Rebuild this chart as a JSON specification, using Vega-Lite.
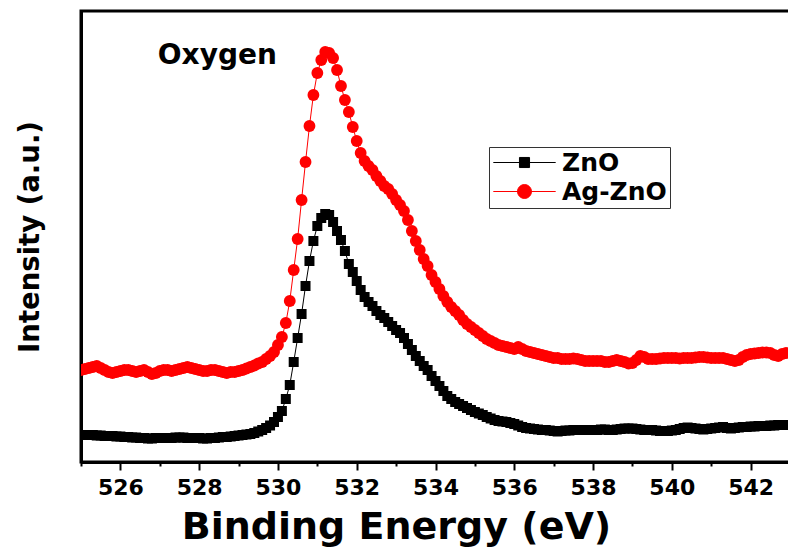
{
  "$schema": "https://vega.github.io/schema/vega-lite/v6.json",
  "width": 709,
  "height": 451,
  "autosize": {"type": "none"},
  "padding": {"left": 81, "top": 11, "right": 0, "bottom": 88},
  "background": "white",
  "config": {
    "view": {"stroke": "black", "strokeWidth": 3},
    "font": "DejaVu Sans"
  },
  "data": {"values": [
    {"e":525.0,"s":"Ag-ZnO","v":92},{"e":525.1,"s":"Ag-ZnO","v":93},{"e":525.2,"s":"Ag-ZnO","v":94},{"e":525.3,"s":"Ag-ZnO","v":95},{"e":525.4,"s":"Ag-ZnO","v":96},{"e":525.5,"s":"Ag-ZnO","v":94},{"e":525.6,"s":"Ag-ZnO","v":92},{"e":525.7,"s":"Ag-ZnO","v":90},{"e":525.8,"s":"Ag-ZnO","v":89},{"e":525.9,"s":"Ag-ZnO","v":90},
    {"e":526.0,"s":"Ag-ZnO","v":91},{"e":526.1,"s":"Ag-ZnO","v":92},{"e":526.2,"s":"Ag-ZnO","v":92},{"e":526.3,"s":"Ag-ZnO","v":91},{"e":526.4,"s":"Ag-ZnO","v":90},{"e":526.5,"s":"Ag-ZnO","v":91},{"e":526.6,"s":"Ag-ZnO","v":92},{"e":526.7,"s":"Ag-ZnO","v":90},{"e":526.8,"s":"Ag-ZnO","v":88},{"e":526.9,"s":"Ag-ZnO","v":89},
    {"e":527.0,"s":"Ag-ZnO","v":91},{"e":527.1,"s":"Ag-ZnO","v":92},{"e":527.2,"s":"Ag-ZnO","v":92},{"e":527.3,"s":"Ag-ZnO","v":91},{"e":527.4,"s":"Ag-ZnO","v":92},{"e":527.5,"s":"Ag-ZnO","v":93},{"e":527.6,"s":"Ag-ZnO","v":94},{"e":527.7,"s":"Ag-ZnO","v":95},{"e":527.8,"s":"Ag-ZnO","v":94},{"e":527.9,"s":"Ag-ZnO","v":93},
    {"e":528.0,"s":"Ag-ZnO","v":92},{"e":528.1,"s":"Ag-ZnO","v":91},{"e":528.2,"s":"Ag-ZnO","v":91},{"e":528.3,"s":"Ag-ZnO","v":92},{"e":528.4,"s":"Ag-ZnO","v":92},{"e":528.5,"s":"Ag-ZnO","v":91},{"e":528.6,"s":"Ag-ZnO","v":90},{"e":528.7,"s":"Ag-ZnO","v":89},{"e":528.8,"s":"Ag-ZnO","v":90},{"e":528.9,"s":"Ag-ZnO","v":90},
    {"e":529.0,"s":"Ag-ZnO","v":91},{"e":529.1,"s":"Ag-ZnO","v":92},{"e":529.2,"s":"Ag-ZnO","v":93.5},{"e":529.3,"s":"Ag-ZnO","v":95},{"e":529.4,"s":"Ag-ZnO","v":96.5},{"e":529.5,"s":"Ag-ZnO","v":98.5},{"e":529.6,"s":"Ag-ZnO","v":100},{"e":529.7,"s":"Ag-ZnO","v":103},{"e":529.8,"s":"Ag-ZnO","v":106},{"e":529.9,"s":"Ag-ZnO","v":110},
    {"e":530.0,"s":"Ag-ZnO","v":117},{"e":530.1,"s":"Ag-ZnO","v":125},{"e":530.2,"s":"Ag-ZnO","v":139},{"e":530.3,"s":"Ag-ZnO","v":161},{"e":530.4,"s":"Ag-ZnO","v":192},{"e":530.5,"s":"Ag-ZnO","v":223},{"e":530.6,"s":"Ag-ZnO","v":262},{"e":530.7,"s":"Ag-ZnO","v":300},{"e":530.8,"s":"Ag-ZnO","v":336},{"e":530.9,"s":"Ag-ZnO","v":367},
    {"e":531.0,"s":"Ag-ZnO","v":389},{"e":531.1,"s":"Ag-ZnO","v":402},{"e":531.2,"s":"Ag-ZnO","v":410},{"e":531.3,"s":"Ag-ZnO","v":409},{"e":531.4,"s":"Ag-ZnO","v":404},{"e":531.5,"s":"Ag-ZnO","v":392},{"e":531.6,"s":"Ag-ZnO","v":376},{"e":531.7,"s":"Ag-ZnO","v":362},{"e":531.8,"s":"Ag-ZnO","v":350},{"e":531.9,"s":"Ag-ZnO","v":335},
    {"e":532.0,"s":"Ag-ZnO","v":321},{"e":532.1,"s":"Ag-ZnO","v":309},{"e":532.2,"s":"Ag-ZnO","v":301},{"e":532.3,"s":"Ag-ZnO","v":296},{"e":532.4,"s":"Ag-ZnO","v":292},{"e":532.5,"s":"Ag-ZnO","v":286},{"e":532.6,"s":"Ag-ZnO","v":281},{"e":532.7,"s":"Ag-ZnO","v":276},{"e":532.8,"s":"Ag-ZnO","v":273},{"e":532.9,"s":"Ag-ZnO","v":268},
    {"e":533.0,"s":"Ag-ZnO","v":262},{"e":533.1,"s":"Ag-ZnO","v":257},{"e":533.2,"s":"Ag-ZnO","v":251},{"e":533.3,"s":"Ag-ZnO","v":242},{"e":533.4,"s":"Ag-ZnO","v":231},{"e":533.5,"s":"Ag-ZnO","v":221},{"e":533.6,"s":"Ag-ZnO","v":212},{"e":533.7,"s":"Ag-ZnO","v":203},{"e":533.8,"s":"Ag-ZnO","v":196},{"e":533.9,"s":"Ag-ZnO","v":187},
    {"e":534.0,"s":"Ag-ZnO","v":180},{"e":534.1,"s":"Ag-ZnO","v":173},{"e":534.2,"s":"Ag-ZnO","v":166},{"e":534.3,"s":"Ag-ZnO","v":160},{"e":534.4,"s":"Ag-ZnO","v":155},{"e":534.5,"s":"Ag-ZnO","v":151},{"e":534.6,"s":"Ag-ZnO","v":147},{"e":534.7,"s":"Ag-ZnO","v":142},{"e":534.8,"s":"Ag-ZnO","v":138},{"e":534.9,"s":"Ag-ZnO","v":135},
    {"e":535.0,"s":"Ag-ZnO","v":132},{"e":535.1,"s":"Ag-ZnO","v":129},{"e":535.2,"s":"Ag-ZnO","v":126},{"e":535.3,"s":"Ag-ZnO","v":123},{"e":535.4,"s":"Ag-ZnO","v":121},{"e":535.5,"s":"Ag-ZnO","v":119},{"e":535.6,"s":"Ag-ZnO","v":117},{"e":535.7,"s":"Ag-ZnO","v":116},{"e":535.8,"s":"Ag-ZnO","v":115},{"e":535.9,"s":"Ag-ZnO","v":114},
    {"e":536.0,"s":"Ag-ZnO","v":113},{"e":536.1,"s":"Ag-ZnO","v":115},{"e":536.2,"s":"Ag-ZnO","v":113},{"e":536.3,"s":"Ag-ZnO","v":111},{"e":536.4,"s":"Ag-ZnO","v":110},{"e":536.5,"s":"Ag-ZnO","v":109},{"e":536.6,"s":"Ag-ZnO","v":108},{"e":536.7,"s":"Ag-ZnO","v":107},{"e":536.8,"s":"Ag-ZnO","v":106},{"e":536.9,"s":"Ag-ZnO","v":105},
    {"e":537.0,"s":"Ag-ZnO","v":104},{"e":537.1,"s":"Ag-ZnO","v":104},{"e":537.2,"s":"Ag-ZnO","v":103},{"e":537.3,"s":"Ag-ZnO","v":103},{"e":537.4,"s":"Ag-ZnO","v":103},{"e":537.5,"s":"Ag-ZnO","v":103.5},{"e":537.6,"s":"Ag-ZnO","v":103},{"e":537.7,"s":"Ag-ZnO","v":102},{"e":537.8,"s":"Ag-ZnO","v":101},{"e":537.9,"s":"Ag-ZnO","v":101},
    {"e":538.0,"s":"Ag-ZnO","v":101},{"e":538.1,"s":"Ag-ZnO","v":101},{"e":538.2,"s":"Ag-ZnO","v":101},{"e":538.3,"s":"Ag-ZnO","v":100},{"e":538.4,"s":"Ag-ZnO","v":100},{"e":538.5,"s":"Ag-ZnO","v":101},{"e":538.6,"s":"Ag-ZnO","v":102},{"e":538.7,"s":"Ag-ZnO","v":101},{"e":538.8,"s":"Ag-ZnO","v":100},{"e":538.9,"s":"Ag-ZnO","v":98.5},
    {"e":539.0,"s":"Ag-ZnO","v":99},{"e":539.1,"s":"Ag-ZnO","v":102},{"e":539.2,"s":"Ag-ZnO","v":106},{"e":539.3,"s":"Ag-ZnO","v":105},{"e":539.4,"s":"Ag-ZnO","v":103},{"e":539.5,"s":"Ag-ZnO","v":103},{"e":539.6,"s":"Ag-ZnO","v":103},{"e":539.7,"s":"Ag-ZnO","v":103.5},{"e":539.8,"s":"Ag-ZnO","v":104},{"e":539.9,"s":"Ag-ZnO","v":104},
    {"e":540.0,"s":"Ag-ZnO","v":104},{"e":540.1,"s":"Ag-ZnO","v":104},{"e":540.2,"s":"Ag-ZnO","v":103.5},{"e":540.3,"s":"Ag-ZnO","v":104},{"e":540.4,"s":"Ag-ZnO","v":104},{"e":540.5,"s":"Ag-ZnO","v":104},{"e":540.6,"s":"Ag-ZnO","v":104.5},{"e":540.7,"s":"Ag-ZnO","v":105},{"e":540.8,"s":"Ag-ZnO","v":105},{"e":540.9,"s":"Ag-ZnO","v":104.5},
    {"e":541.0,"s":"Ag-ZnO","v":104},{"e":541.1,"s":"Ag-ZnO","v":104},{"e":541.2,"s":"Ag-ZnO","v":104},{"e":541.3,"s":"Ag-ZnO","v":104},{"e":541.4,"s":"Ag-ZnO","v":103},{"e":541.5,"s":"Ag-ZnO","v":102},{"e":541.6,"s":"Ag-ZnO","v":101},{"e":541.7,"s":"Ag-ZnO","v":102},{"e":541.8,"s":"Ag-ZnO","v":105},{"e":541.9,"s":"Ag-ZnO","v":107},
    {"e":542.0,"s":"Ag-ZnO","v":108},{"e":542.1,"s":"Ag-ZnO","v":108.5},{"e":542.2,"s":"Ag-ZnO","v":109},{"e":542.3,"s":"Ag-ZnO","v":109.5},{"e":542.4,"s":"Ag-ZnO","v":109.5},{"e":542.5,"s":"Ag-ZnO","v":109},{"e":542.6,"s":"Ag-ZnO","v":107},{"e":542.7,"s":"Ag-ZnO","v":106},{"e":542.8,"s":"Ag-ZnO","v":108},{"e":542.9,"s":"Ag-ZnO","v":109},
    {"e":543.0,"s":"Ag-ZnO","v":109},
    {"e":525.0,"s":"ZnO","v":27},{"e":525.1,"s":"ZnO","v":27},{"e":525.2,"s":"ZnO","v":27},{"e":525.3,"s":"ZnO","v":27},{"e":525.4,"s":"ZnO","v":26.5},{"e":525.5,"s":"ZnO","v":26.5},{"e":525.6,"s":"ZnO","v":26},{"e":525.7,"s":"ZnO","v":26},{"e":525.8,"s":"ZnO","v":26},{"e":525.9,"s":"ZnO","v":25.5},
    {"e":526.0,"s":"ZnO","v":25.5},{"e":526.1,"s":"ZnO","v":25},{"e":526.2,"s":"ZnO","v":25},{"e":526.3,"s":"ZnO","v":24.5},{"e":526.4,"s":"ZnO","v":24.5},{"e":526.5,"s":"ZnO","v":24},{"e":526.6,"s":"ZnO","v":24},{"e":526.7,"s":"ZnO","v":23.5},{"e":526.8,"s":"ZnO","v":23.5},{"e":526.9,"s":"ZnO","v":24},
    {"e":527.0,"s":"ZnO","v":24},{"e":527.1,"s":"ZnO","v":24},{"e":527.2,"s":"ZnO","v":24},{"e":527.3,"s":"ZnO","v":24},{"e":527.4,"s":"ZnO","v":24.5},{"e":527.5,"s":"ZnO","v":24.5},{"e":527.6,"s":"ZnO","v":24.5},{"e":527.7,"s":"ZnO","v":24},{"e":527.8,"s":"ZnO","v":24},{"e":527.9,"s":"ZnO","v":24},
    {"e":528.0,"s":"ZnO","v":24},{"e":528.1,"s":"ZnO","v":23.5},{"e":528.2,"s":"ZnO","v":23.5},{"e":528.3,"s":"ZnO","v":24},{"e":528.4,"s":"ZnO","v":24},{"e":528.5,"s":"ZnO","v":24.5},{"e":528.6,"s":"ZnO","v":25},{"e":528.7,"s":"ZnO","v":25},{"e":528.8,"s":"ZnO","v":25.5},{"e":528.9,"s":"ZnO","v":26},
    {"e":529.0,"s":"ZnO","v":26.5},{"e":529.1,"s":"ZnO","v":27},{"e":529.2,"s":"ZnO","v":27.5},{"e":529.3,"s":"ZnO","v":28},{"e":529.4,"s":"ZnO","v":29},{"e":529.5,"s":"ZnO","v":30.5},{"e":529.6,"s":"ZnO","v":32},{"e":529.7,"s":"ZnO","v":34},{"e":529.8,"s":"ZnO","v":36.5},{"e":529.9,"s":"ZnO","v":40},
    {"e":530.0,"s":"ZnO","v":45},{"e":530.1,"s":"ZnO","v":51},{"e":530.2,"s":"ZnO","v":63},{"e":530.3,"s":"ZnO","v":77},{"e":530.4,"s":"ZnO","v":100},{"e":530.5,"s":"ZnO","v":124},{"e":530.6,"s":"ZnO","v":148},{"e":530.7,"s":"ZnO","v":176},{"e":530.8,"s":"ZnO","v":201},{"e":530.9,"s":"ZnO","v":221},
    {"e":531.0,"s":"ZnO","v":236},{"e":531.1,"s":"ZnO","v":244},{"e":531.2,"s":"ZnO","v":248},{"e":531.3,"s":"ZnO","v":247},{"e":531.4,"s":"ZnO","v":240},{"e":531.5,"s":"ZnO","v":231},{"e":531.6,"s":"ZnO","v":222},{"e":531.7,"s":"ZnO","v":211},{"e":531.8,"s":"ZnO","v":198},{"e":531.9,"s":"ZnO","v":190},
    {"e":532.0,"s":"ZnO","v":181},{"e":532.1,"s":"ZnO","v":172},{"e":532.2,"s":"ZnO","v":165},{"e":532.3,"s":"ZnO","v":160},{"e":532.4,"s":"ZnO","v":156},{"e":532.5,"s":"ZnO","v":151},{"e":532.6,"s":"ZnO","v":147},{"e":532.7,"s":"ZnO","v":144},{"e":532.8,"s":"ZnO","v":140},{"e":532.9,"s":"ZnO","v":136},
    {"e":533.0,"s":"ZnO","v":132},{"e":533.1,"s":"ZnO","v":129},{"e":533.2,"s":"ZnO","v":124},{"e":533.3,"s":"ZnO","v":118},{"e":533.4,"s":"ZnO","v":112},{"e":533.5,"s":"ZnO","v":106},{"e":533.6,"s":"ZnO","v":101},{"e":533.7,"s":"ZnO","v":96},{"e":533.8,"s":"ZnO","v":92},{"e":533.9,"s":"ZnO","v":86},
    {"e":534.0,"s":"ZnO","v":81},{"e":534.1,"s":"ZnO","v":76},{"e":534.2,"s":"ZnO","v":71},{"e":534.3,"s":"ZnO","v":66},{"e":534.4,"s":"ZnO","v":63},{"e":534.5,"s":"ZnO","v":60},{"e":534.6,"s":"ZnO","v":58},{"e":534.7,"s":"ZnO","v":56},{"e":534.8,"s":"ZnO","v":54},{"e":534.9,"s":"ZnO","v":52},
    {"e":535.0,"s":"ZnO","v":50},{"e":535.1,"s":"ZnO","v":48.5},{"e":535.2,"s":"ZnO","v":47},{"e":535.3,"s":"ZnO","v":45},{"e":535.4,"s":"ZnO","v":43.5},{"e":535.5,"s":"ZnO","v":42},{"e":535.6,"s":"ZnO","v":41},{"e":535.7,"s":"ZnO","v":40.5},{"e":535.8,"s":"ZnO","v":40},{"e":535.9,"s":"ZnO","v":39},
    {"e":536.0,"s":"ZnO","v":38},{"e":536.1,"s":"ZnO","v":36.5},{"e":536.2,"s":"ZnO","v":35},{"e":536.3,"s":"ZnO","v":34},{"e":536.4,"s":"ZnO","v":33.5},{"e":536.5,"s":"ZnO","v":33},{"e":536.6,"s":"ZnO","v":32.5},{"e":536.7,"s":"ZnO","v":32},{"e":536.8,"s":"ZnO","v":32},{"e":536.9,"s":"ZnO","v":31.5},
    {"e":537.0,"s":"ZnO","v":31},{"e":537.1,"s":"ZnO","v":30.5},{"e":537.2,"s":"ZnO","v":31},{"e":537.3,"s":"ZnO","v":31.5},{"e":537.4,"s":"ZnO","v":31.5},{"e":537.5,"s":"ZnO","v":32},{"e":537.6,"s":"ZnO","v":32},{"e":537.7,"s":"ZnO","v":32},{"e":537.8,"s":"ZnO","v":32},{"e":537.9,"s":"ZnO","v":32},
    {"e":538.0,"s":"ZnO","v":32},{"e":538.1,"s":"ZnO","v":32},{"e":538.2,"s":"ZnO","v":32.5},{"e":538.3,"s":"ZnO","v":32.5},{"e":538.4,"s":"ZnO","v":32},{"e":538.5,"s":"ZnO","v":32},{"e":538.6,"s":"ZnO","v":32.5},{"e":538.7,"s":"ZnO","v":33},{"e":538.8,"s":"ZnO","v":33.5},{"e":538.9,"s":"ZnO","v":33.5},
    {"e":539.0,"s":"ZnO","v":33.5},{"e":539.1,"s":"ZnO","v":33},{"e":539.2,"s":"ZnO","v":32.5},{"e":539.3,"s":"ZnO","v":32},{"e":539.4,"s":"ZnO","v":32},{"e":539.5,"s":"ZnO","v":32},{"e":539.6,"s":"ZnO","v":31.5},{"e":539.7,"s":"ZnO","v":31},{"e":539.8,"s":"ZnO","v":31},{"e":539.9,"s":"ZnO","v":31},
    {"e":540.0,"s":"ZnO","v":31.5},{"e":540.1,"s":"ZnO","v":32},{"e":540.2,"s":"ZnO","v":33},{"e":540.3,"s":"ZnO","v":34},{"e":540.4,"s":"ZnO","v":34.5},{"e":540.5,"s":"ZnO","v":34},{"e":540.6,"s":"ZnO","v":33.5},{"e":540.7,"s":"ZnO","v":33},{"e":540.8,"s":"ZnO","v":32.5},{"e":540.9,"s":"ZnO","v":33},
    {"e":541.0,"s":"ZnO","v":33.5},{"e":541.1,"s":"ZnO","v":34},{"e":541.2,"s":"ZnO","v":34.5},{"e":541.3,"s":"ZnO","v":35},{"e":541.4,"s":"ZnO","v":34},{"e":541.5,"s":"ZnO","v":33.5},{"e":541.6,"s":"ZnO","v":34},{"e":541.7,"s":"ZnO","v":34.5},{"e":541.8,"s":"ZnO","v":35},{"e":541.9,"s":"ZnO","v":35},
    {"e":542.0,"s":"ZnO","v":35.5},{"e":542.1,"s":"ZnO","v":35.5},{"e":542.2,"s":"ZnO","v":36},{"e":542.3,"s":"ZnO","v":36},{"e":542.4,"s":"ZnO","v":36},{"e":542.5,"s":"ZnO","v":36.5},{"e":542.6,"s":"ZnO","v":36.5},{"e":542.7,"s":"ZnO","v":37},{"e":542.8,"s":"ZnO","v":37},{"e":542.9,"s":"ZnO","v":37},
    {"e":543.0,"s":"ZnO","v":37}
  ]},
  "encoding": {
    "x": {
      "field": "e", "type": "quantitative",
      "scale": {"domain": [525, 543], "nice": false, "zero": false},
      "axis": {
        "title": "Binding Energy (eV)",
        "values": [525,526,527,528,529,530,531,532,533,534,535,536,537,538,539,540,541,542,543],
        "labelExpr": "datum.value % 2 === 0 ? datum.label : ''",
        "format": "d",
        "labelOverlap": false,
        "labelFlush": false,
        "grid": false,
        "domainColor": "black",
        "domainWidth": 3,
        "tickColor": "black",
        "tickWidth": 2,
        "tickSize": {"condition": {"test": "datum.value % 2 === 1", "value": 4}, "value": 8},
        "labelFont": "DejaVu Sans",
        "labelFontWeight": "bold",
        "labelFontSize": 22,
        "labelColor": "black",
        "labelPadding": 7,
        "titleFont": "DejaVu Sans",
        "titleFontWeight": "bold",
        "titleFontSize": 38,
        "titleColor": "black",
        "titlePadding": 10,
        "titleX": 315
      }
    },
    "y": {
      "field": "v", "type": "quantitative",
      "scale": {"domain": [0, 451], "nice": false, "zero": false},
      "axis": {
        "title": "Intensity (a.u.)",
        "labels": false,
        "ticks": false,
        "grid": false,
        "domainColor": "black",
        "domainWidth": 3,
        "titleFont": "DejaVu Sans",
        "titleFontWeight": "bold",
        "titleFontSize": 27.5,
        "titleColor": "black",
        "titlePadding": 37
      }
    },
    "color": {
      "field": "s", "type": "nominal",
      "scale": {"domain": ["ZnO", "Ag-ZnO"], "range": ["black", "red"]},
      "legend": {
        "orient": "none",
        "legendX": 408,
        "legendY": 136,
        "title": null,
        "strokeColor": "#333333",
        "fillColor": "white",
        "padding": 3,
        "symbolSize": 576,
        "symbolStrokeWidth": 1,
        "symbolOffset": 20,
        "labelFont": "DejaVu Sans",
        "labelFontWeight": "bold",
        "labelFontSize": 25,
        "labelColor": "black",
        "labelOffset": 25,
        "rowPadding": 3,
        "encode": {
          "symbols": {
            "update": {
              "shape": {"signal": "datum.value === 'ZnO' ? 'M-2.6,0H2.6M-0.42,-0.42H0.42V0.42H-0.42Z' : 'M-2.6,0H2.6M0.58,0A0.58,0.58 0 1 1 -0.58,0A0.58,0.58 0 1 1 0.58,0Z'"},
              "fill": {"signal": "datum.value === 'ZnO' ? 'black' : 'red'"},
              "stroke": {"signal": "datum.value === 'ZnO' ? 'black' : 'red'"},
              "size": {"value": 576},
              "strokeWidth": {"value": 1},
              "opacity": {"value": 1}
            }
          }
        }
      }
    }
  },
  "layer": [
    {"mark": {"type": "line", "strokeWidth": 1, "clip": true}},
    {
      "transform": [{"filter": "datum.s === 'Ag-ZnO'"}],
      "mark": {"type": "point", "shape": "circle", "size": 140, "filled": true, "opacity": 1, "clip": true}
    },
    {
      "transform": [{"filter": "datum.s === 'ZnO'"}],
      "mark": {"type": "point", "shape": "square", "size": 100, "filled": true, "opacity": 1, "clip": true}
    },
    {
      "transform": [{"filter": "datum.s === 'ZnO' && datum.e === 525"}],
      "mark": {"type": "text", "align": "left", "baseline": "alphabetic", "font": "DejaVu Sans", "fontWeight": "bold", "fontSize": 28, "color": "black"},
      "encoding": {
        "x": {"datum": 526.95, "type": "quantitative"},
        "y": {"datum": 398, "type": "quantitative"},
        "text": {"value": "Oxygen"},
        "color": {"value": "black"}
      }
    }
  ]
}
